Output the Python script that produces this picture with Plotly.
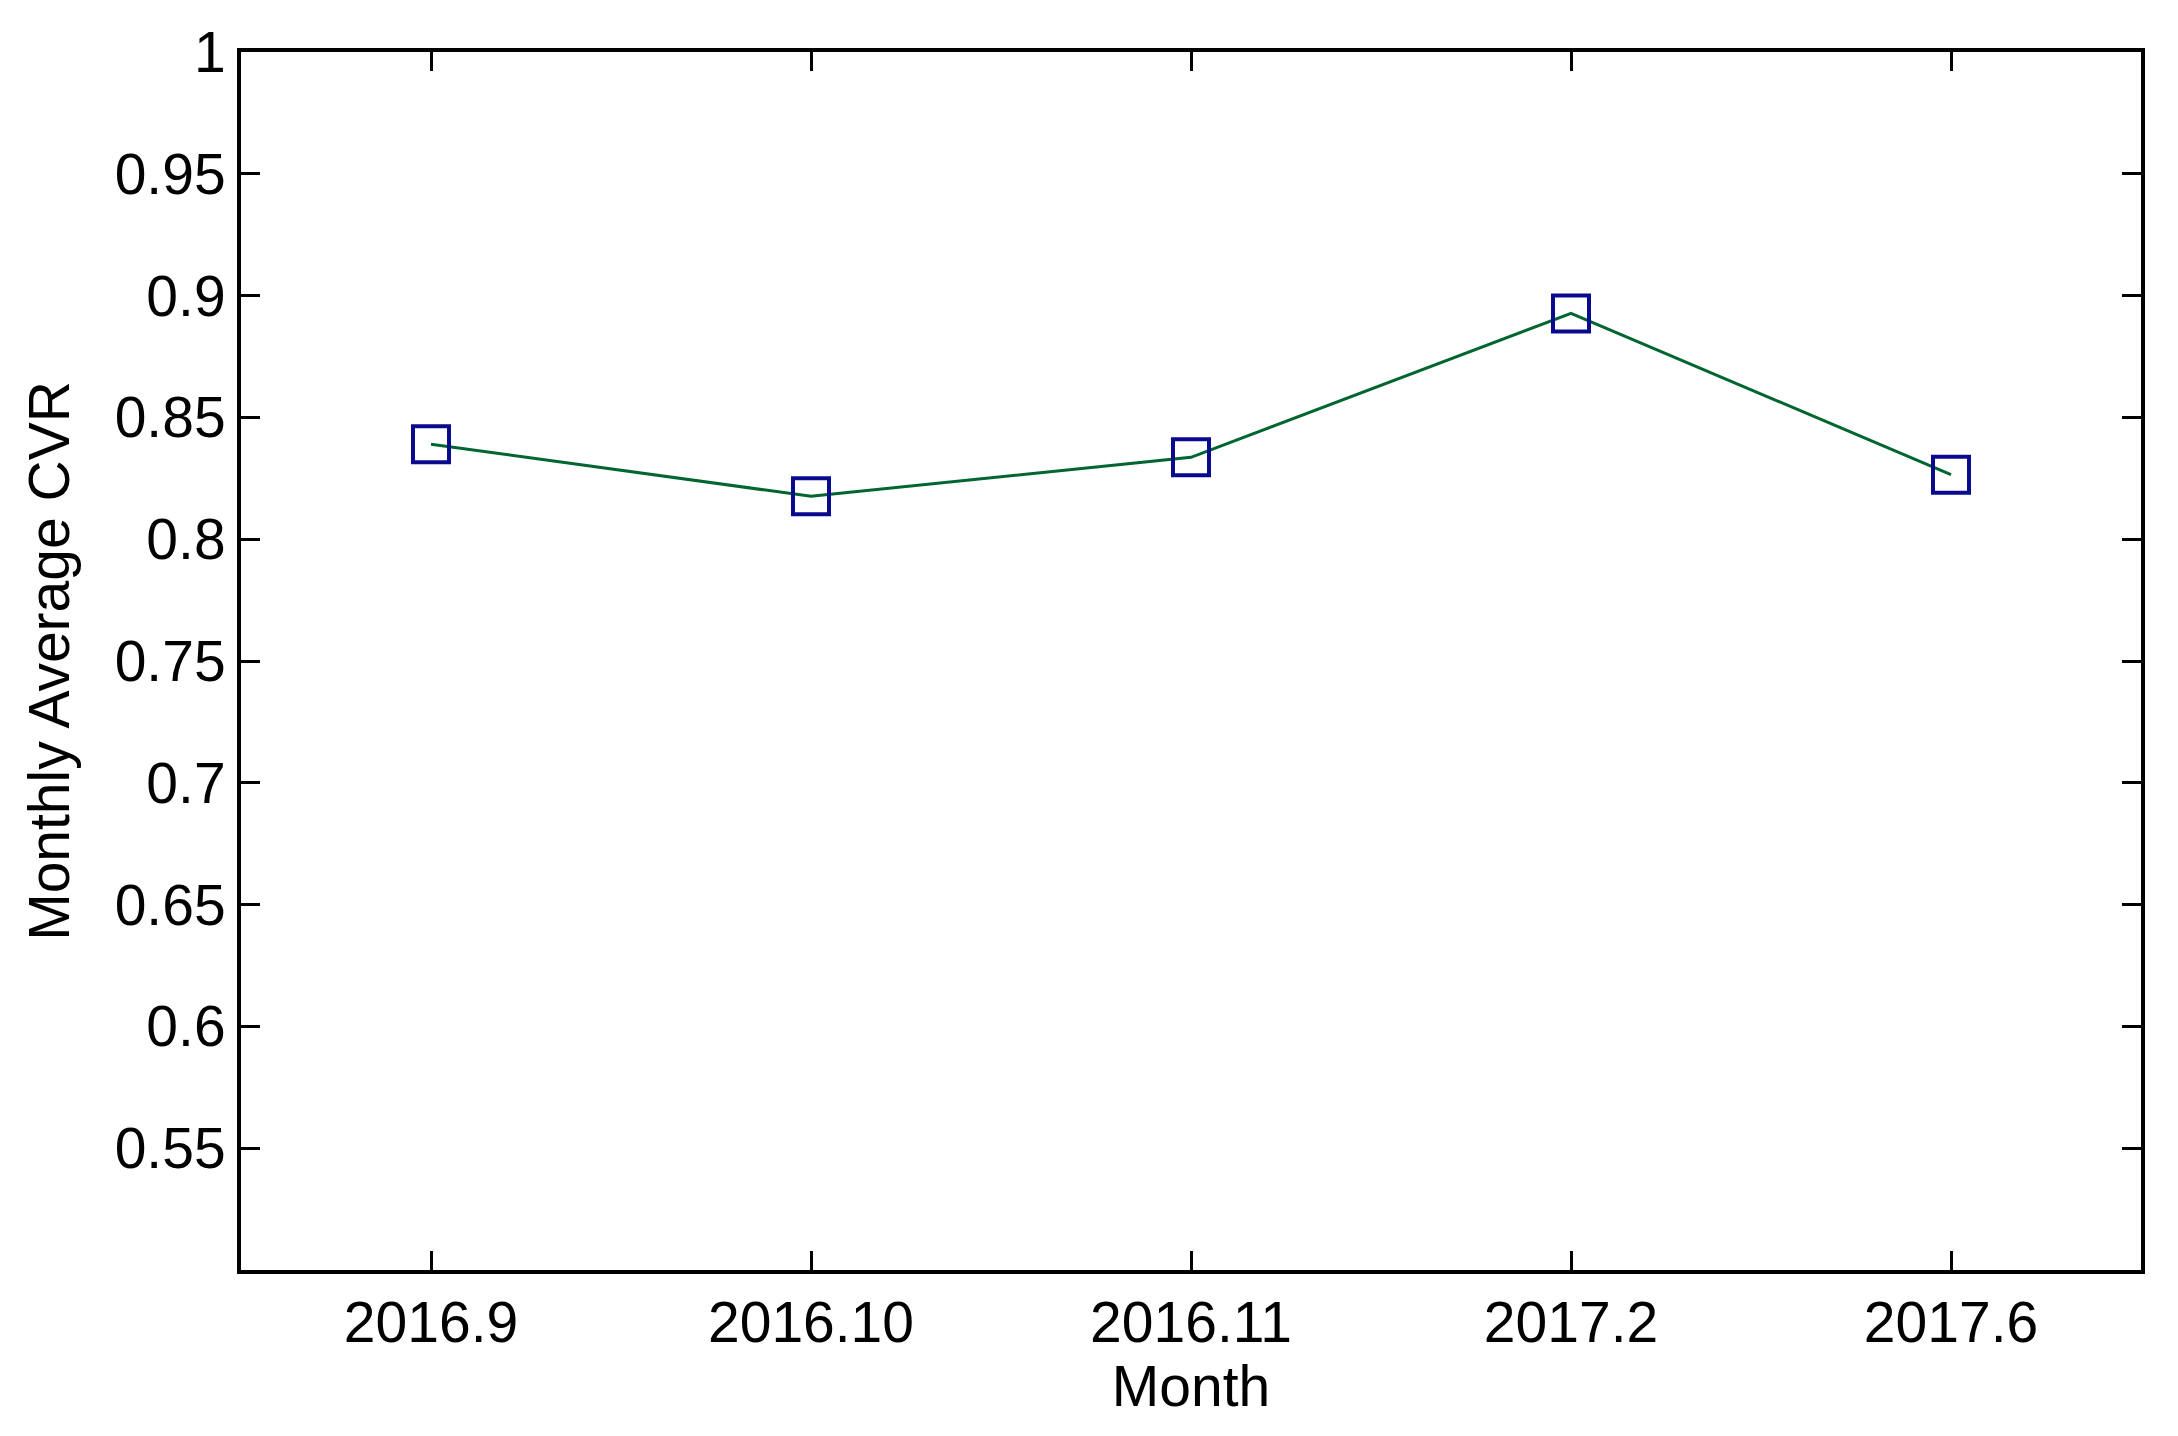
import plotly.graph_objects as go

months = ["2016.9", "2016.10", "2016.11", "2017.2", "2017.6"]
cvr = [0.839, 0.8176, 0.8336, 0.8927, 0.8265]

y_tickvals = [0.55, 0.6, 0.65, 0.7, 0.75, 0.8, 0.85, 0.9, 0.95, 1.0]
y_ticktext = ["0.55", "0.6", "0.65", "0.7", "0.75", "0.8", "0.85", "0.9", "0.95", "1"]

FONT = "Liberation Sans"
FS = 57

fig = go.Figure()
fig.add_trace(go.Scatter(
    x=months, y=cvr, mode="lines+markers",
    line=dict(color="#00652e", width=3),
    marker=dict(symbol="square-open", size=36, color="#0a0a8f", line=dict(width=4, color="#0a0a8f")),
    showlegend=False,
))

axis_common = dict(
    showline=True, linecolor="black", linewidth=4, mirror="ticks",
    ticks="inside", ticklen=19, tickwidth=3, tickcolor="black",
    showgrid=False, zeroline=False,
    tickfont=dict(family=FONT, size=FS, color="black"),
)

fig.update_layout(
    width=2178, height=1436,
    margin=dict(l=233, r=45, t=34, b=174),
    paper_bgcolor="white", plot_bgcolor="white",
    font=dict(family=FONT, size=FS, color="black"),
    xaxis=dict(type="category", range=[-0.5, 4.5],
               title=dict(text="Month", font=dict(family=FONT, size=FS), standoff=8),
               **axis_common),
    yaxis=dict(range=[0.5, 1.0], tickvals=y_tickvals, ticktext=y_ticktext,
               title=dict(text="Monthly Average CVR", font=dict(family=FONT, size=FS), standoff=28),
               **axis_common),
)

fig.write_html("out.html")
